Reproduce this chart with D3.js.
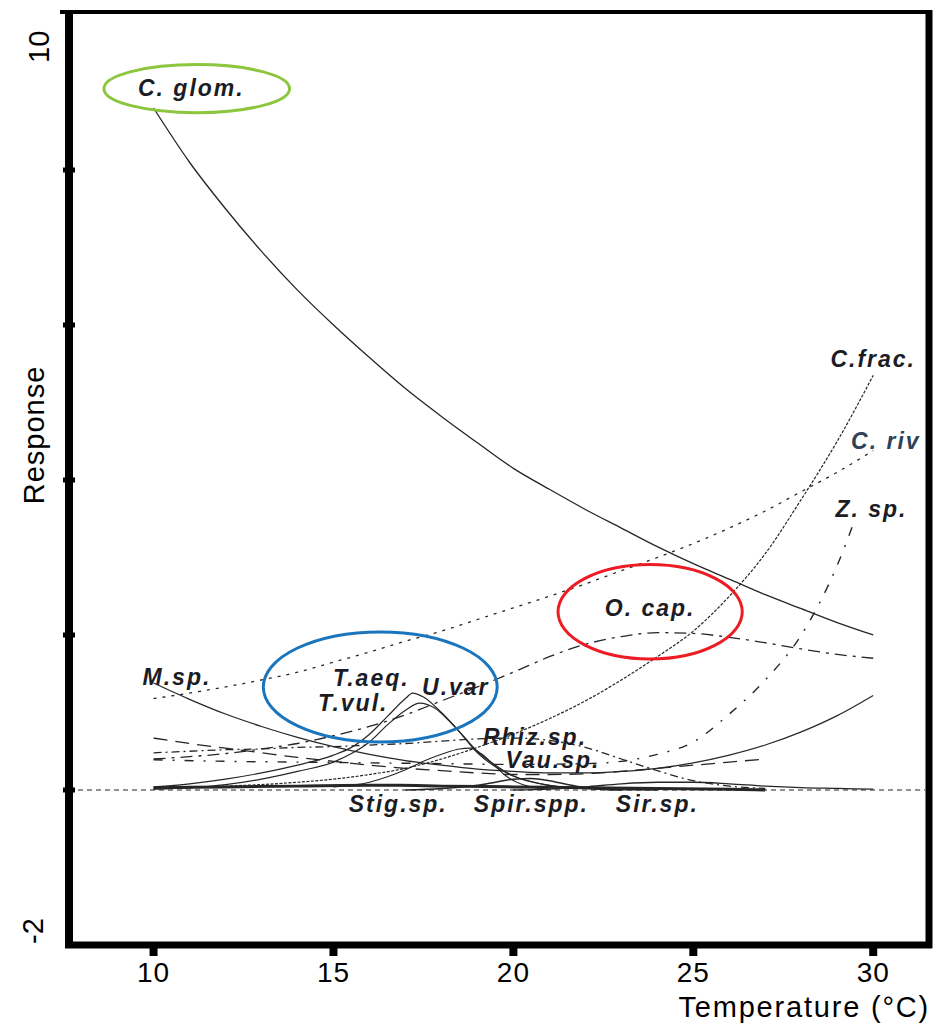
<!DOCTYPE html>
<html>
<head>
<meta charset="utf-8">
<script src="https://cdn.jsdelivr.net/npm/d3@7"></script>
<style>
  body { margin: 0; background: #fff; }
  svg { display: block; }
  text { font-family: "Liberation Sans", Arial, sans-serif; }
</style>
</head>
<body>
<div id="chart"></div>
<script>
// ---- data ----
var temps = [10, 11, 12, 13, 14, 15, 16, 17, 18, 19, 20, 21, 22, 23, 24, 25, 26, 27, 28, 29, 30];

var cGlom = [8.8, 8.1, 7.5, 6.95, 6.45, 6.0, 5.58, 5.18, 4.82, 4.48, 4.15, 3.88, 3.62, 3.38, 3.14, 2.92, 2.72, 2.52, 2.34, 2.16, 2.0];
var cFrac = [0.02, 0.03, 0.05, 0.07, 0.1, 0.14, 0.2, 0.28, 0.4, 0.55, 0.72, 0.92, 1.15, 1.42, 1.72, 2.05, 2.5, 3.05, 3.75, 4.5, 5.35];
var cRiv  = [1.18, 1.25, 1.33, 1.42, 1.52, 1.65, 1.78, 1.92, 2.05, 2.2, 2.35, 2.5, 2.66, 2.83, 3.0, 3.18, 3.38, 3.6, 3.85, 4.1, 4.38];
var oCap  = [0.4, 0.43, 0.47, 0.53, 0.6, 0.7, 0.82, 0.97, 1.15, 1.33, 1.52, 1.72, 1.88, 1.98, 2.03, 2.02, 1.97, 1.9, 1.82, 1.75, 1.7];
var mSp   = [1.38, 1.17, 0.98, 0.82, 0.68, 0.56, 0.46, 0.38, 0.32, 0.27, 0.24, 0.22, 0.22, 0.24, 0.28, 0.35, 0.45, 0.58, 0.75, 0.96, 1.22];

var zTemp = [10, 12, 14, 16, 18, 20, 22, 23, 24, 25, 26, 27, 28, 29, 29.5];
var zSp   = [0.39, 0.37, 0.36, 0.35, 0.34, 0.33, 0.34, 0.37, 0.46, 0.62, 0.98, 1.42, 2.0, 2.9, 3.5];

var vauTemp = [10, 11, 12, 13, 14, 15, 16, 17, 18, 19, 20, 21, 22, 23, 24, 25, 26, 27];
var vauSp   = [0.67, 0.6, 0.54, 0.48, 0.42, 0.37, 0.32, 0.28, 0.25, 0.22, 0.2, 0.2, 0.21, 0.24, 0.28, 0.32, 0.36, 0.4];

var rhizTemp = [10, 11, 12, 13, 14, 15, 16, 17, 18, 19, 20, 21, 22, 23, 24, 25, 26, 27];
var rhizSp   = [0.48, 0.5, 0.52, 0.53, 0.55, 0.56, 0.58, 0.6, 0.63, 0.66, 0.67, 0.64, 0.55, 0.4, 0.25, 0.12, 0.05, 0.02];

var tAeqTemp = [10, 11, 12, 13, 14, 15, 15.5, 16, 16.5, 17, 17.2, 17.5, 18, 18.5, 19, 19.5, 20, 21, 22, 23, 24];
var tAeq     = [0.04, 0.08, 0.14, 0.22, 0.32, 0.45, 0.55, 0.72, 0.95, 1.18, 1.25, 1.2, 1.0, 0.75, 0.48, 0.3, 0.18, 0.06, 0.02, 0.01, 0];

var tVulTemp = [10, 11, 12, 13, 14, 15, 15.5, 16, 16.5, 17, 17.4, 17.8, 18.2, 18.6, 19, 19.5, 20, 21, 22, 23, 24];
var tVul     = [0.01, 0.03, 0.07, 0.14, 0.24, 0.36, 0.47, 0.62, 0.84, 1.03, 1.12, 1.06, 0.9, 0.7, 0.5, 0.32, 0.18, 0.06, 0.02, 0, 0];

var uVarTemp = [15, 16, 16.5, 17, 17.5, 18, 18.5, 18.8, 19.1, 19.4, 19.8, 20.4, 21];
var uVar     = [0.04, 0.1, 0.17, 0.26, 0.37, 0.46, 0.53, 0.54, 0.47, 0.35, 0.18, 0.05, 0.01];

var stigTemp = [10, 12, 14, 16, 16.8, 18, 20, 22, 24, 26, 27];
var stigSp   = [0.03, 0.04, 0.05, 0.06, 0.06, 0.05, 0.04, 0.03, 0.02, 0.01, 0.0];

var spirTemp = [17, 18, 19, 19.5, 20, 20.5, 21, 21.5, 22, 23];
var spirSp   = [0, 0.02, 0.06, 0.1, 0.14, 0.15, 0.12, 0.07, 0.03, 0];

var sirTemp = [20, 21, 22, 23, 24, 25, 26, 27, 28, 29, 30];
var sirSp   = [0, 0.01, 0.04, 0.08, 0.1, 0.1, 0.08, 0.05, 0.03, 0.02, 0.01];

var xTicks = [10, 15, 20, 25, 30];
var yTicks = [-2, 0, 2, 4, 6, 8, 10];

// species labels (text, temperature, response where the label sits)
var labelNames = ["C. glom.", "C.frac.", "C. riv", "Z. sp.", "O. cap.", "M.sp.", "T.aeq.", "T.vul.", "U.var",
                  "Rhiz.sp.", "Vau.sp.", "Stig.sp.", "Spir.spp.", "Sir.sp."];
var labelTemp  = [11.05, 30.0, 30.35, 29.95, 23.8, 10.65, 16.05, 15.55, 18.4, 20.6, 21.1, 16.8, 20.5, 24.0];
var labelResp  = [8.96, 5.46, 4.4, 3.52, 2.25, 1.35, 1.34, 1.02, 1.23, 0.58, 0.28, -0.28, -0.28, -0.28];

// highlighted groups: centre temp, centre response, half-width (temp), half-height (response), colour
var ringTemp  = [11.2, 16.3, 23.8];
var ringResp  = [9.05, 1.33, 2.3];
var ringRx    = [2.58, 3.25, 2.56];
var ringRy    = [0.31, 0.71, 0.61];
var ringColor = ["#8cc63f", "#1b75bc", "#ed1c24"];

// ---- layout ----
var W = 933, H = 1023;
var x = d3.scaleLinear().domain([7.65, 31.55]).range([69, 929]);
var y = d3.scaleLinear().domain([-2, 10]).range([945, 15]);

var svg = d3.select("#chart").append("svg")
	.attr("width", W)
	.attr("height", H);

var styles = {
	"C. glom.": {dash: null, w: 1.3},
	"C.frac.":  {dash: "3,1.5", w: 1.2},
	"C. riv":   {dash: "3,6", w: 1.3},
	"Z. sp.":   {dash: "9,10,2,10", w: 1.4},
	"O. cap.":  {dash: "12,6,3,6", w: 1.3},
	"M.sp.":    {dash: null, w: 1.2},
	"Vau.sp.":  {dash: "14,8", w: 1.3},
	"Rhiz.sp.": {dash: "8,4,2,4", w: 1.3},
	"T.aeq.":   {dash: null, w: 1.2},
	"T.vul.":   {dash: null, w: 1.2},
	"U.var":    {dash: null, w: 1.1},
	"Stig.sp.": {dash: null, w: 3},
	"Spir.spp.":{dash: null, w: 1.5},
	"Sir.sp.":  {dash: null, w: 1.3}
};

function zip(xs, ys) { return xs.map(function(t, i) { return [t, ys[i]]; }); }

var series = [
	{name: "C. glom.", pts: zip(temps, cGlom)},
	{name: "C.frac.",  pts: zip(temps, cFrac)},
	{name: "C. riv",   pts: zip(temps, cRiv)},
	{name: "O. cap.",  pts: zip(temps, oCap)},
	{name: "M.sp.",    pts: zip(temps, mSp)},
	{name: "Z. sp.",   pts: zip(zTemp, zSp)},
	{name: "Vau.sp.",  pts: zip(vauTemp, vauSp)},
	{name: "Rhiz.sp.", pts: zip(rhizTemp, rhizSp)},
	{name: "T.aeq.",   pts: zip(tAeqTemp, tAeq)},
	{name: "T.vul.",   pts: zip(tVulTemp, tVul)},
	{name: "U.var",    pts: zip(uVarTemp, uVar)},
	{name: "Stig.sp.", pts: zip(stigTemp, stigSp)},
	{name: "Spir.spp.",pts: zip(spirTemp, spirSp)},
	{name: "Sir.sp.",  pts: zip(sirTemp, sirSp)}
];

// clip to the frame
svg.append("clipPath").attr("id", "plotClip")
	.append("rect")
	.attr("x", x(7.65) + 4).attr("y", 14)
	.attr("width", x(31.55) - x(7.65) - 8).attr("height", y(-2) - 16);

var plot = svg.append("g").attr("clip-path", "url(#plotClip)");

// zero reference line
plot.append("line")
	.attr("x1", x(7.65)).attr("x2", x(31.55))
	.attr("y1", y(0)).attr("y2", y(0))
	.attr("stroke", "#222").attr("stroke-width", 1)
	.attr("stroke-dasharray", "5,4");

var line = d3.line()
	.x(function(d) { return x(d[0]); })
	.y(function(d) { return y(d[1]); })
	.curve(d3.curveMonotoneX);

plot.selectAll(".curve")
	.data(series)
	.enter().append("path")
	.attr("class", "curve")
	.attr("fill", "none")
	.attr("stroke", "#262626")
	.attr("stroke-width", function(d) { return styles[d.name].w; })
	.attr("stroke-dasharray", function(d) { return styles[d.name].dash; })
	.attr("d", function(d) { return line(d.pts); });

// species labels
plot.selectAll(".lab")
	.data(labelNames)
	.enter().append("text")
	.attr("class", "lab")
	.attr("x", function(d, i) { return x(labelTemp[i]); })
	.attr("y", function(d, i) { return y(labelResp[i]); })
	.attr("text-anchor", "middle")
	.attr("font-size", 23)
	.attr("font-weight", "bold")
	.attr("font-style", "italic")
	.attr("letter-spacing", 2)
	.attr("fill", function(d) { return d === "C. riv" ? "#2e4259" : "#1c1c24"; })
	.text(function(d) { return d; });

// rings round the groups
svg.selectAll(".ring")
	.data(ringTemp)
	.enter().append("ellipse")
	.attr("class", "ring")
	.attr("cx", function(d) { return x(d); })
	.attr("cy", function(d, i) { return y(ringResp[i]); })
	.attr("rx", function(d, i) { return x(d + ringRx[i]) - x(d); })
	.attr("ry", function(d, i) { return y(0) - y(ringRy[i]); })
	.attr("fill", "none")
	.attr("stroke", function(d, i) { return ringColor[i]; })
	.attr("stroke-width", 3);

// frame: thick left and bottom axes
var fx0 = x(7.65), fx1 = x(31.55), fy0 = 12, fy1 = y(-2);
svg.append("line").attr("x1", fx0 - 9).attr("x2", fx1).attr("y1", fy0).attr("y2", fy0)
	.attr("stroke", "#000").attr("stroke-width", 4);
svg.append("line").attr("x1", fx1).attr("x2", fx1).attr("y1", fy0 - 2).attr("y2", fy1 + 3)
	.attr("stroke", "#000").attr("stroke-width", 7);
svg.append("line").attr("x1", fx0).attr("x2", fx0).attr("y1", fy0 - 2).attr("y2", fy1 + 3)
	.attr("stroke", "#000").attr("stroke-width", 8);
svg.append("line").attr("x1", fx0 - 4).attr("x2", fx1 + 3).attr("y1", fy1).attr("y2", fy1)
	.attr("stroke", "#000").attr("stroke-width", 7);

// y tick stubs
svg.selectAll(".ytick")
	.data(yTicks.slice(1, -1))
	.enter().append("rect")
	.attr("class", "ytick")
	.attr("x", fx0 - 6).attr("width", 12)
	.attr("y", function(d) { return y(d) - 2.5; }).attr("height", 5)
	.attr("fill", "#000");

// x tick stubs and labels
svg.selectAll(".xtick")
	.data(xTicks)
	.enter().append("rect")
	.attr("class", "xtick")
	.attr("x", function(d) { return x(d) - 4; }).attr("width", 8)
	.attr("y", fy1).attr("height", 11)
	.attr("fill", "#000");

svg.selectAll(".xlab")
	.data(xTicks)
	.enter().append("text")
	.attr("class", "xlab")
	.attr("x", function(d) { return x(d); })
	.attr("y", 982)
	.attr("text-anchor", "middle")
	.attr("font-size", 28)
	.attr("letter-spacing", 1)
	.attr("fill", "#000")
	.text(function(d) { return d; });

// y end labels (rotated)
svg.append("text")
	.attr("transform", "translate(49," + (y(10) + 48) + ") rotate(-90)")
	.attr("text-anchor", "start")
	.attr("font-size", 29)
	.attr("fill", "#000")
	.text(yTicks[yTicks.length - 1]);
svg.append("text")
	.attr("transform", "translate(43," + (y(-2) - 1) + ") rotate(-90)")
	.attr("text-anchor", "start")
	.attr("font-size", 29)
	.attr("fill", "#000")
	.text(yTicks[0]);

// axis titles
svg.append("text")
	.attr("transform", "translate(44,435) rotate(-90)")
	.attr("text-anchor", "middle")
	.attr("font-size", 29)
	.attr("letter-spacing", 1)
	.attr("fill", "#000")
	.text("Response");

svg.append("text")
	.attr("x", 930).attr("y", 1017)
	.attr("text-anchor", "end")
	.attr("font-size", 29)
	.attr("letter-spacing", 1.8)
	.attr("fill", "#000")
	.text("Temperature (°C)");
</script>
</body>
</html>
